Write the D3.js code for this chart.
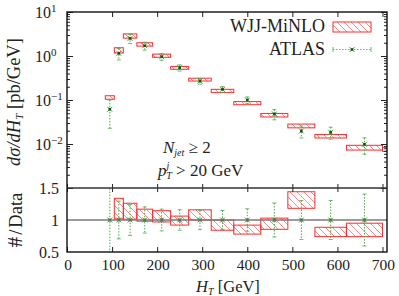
<!DOCTYPE html>
<html>
<head>
<meta charset="utf-8">
<script src="https://cdn.jsdelivr.net/npm/d3@7"></script>
<style>
  body { margin: 0; background: #fff; }
  text { font-family: "Liberation Serif", "Times New Roman", serif; fill: #222; }
</style>
</head>
<body>
<svg id="chart" width="399" height="296"></svg>
<script>
// bins in H_T [GeV]
const binLo = [85, 105, 125, 155, 190, 230, 270, 320, 370, 430, 490, 550, 620, 700];
const binHi = [105, 125, 155, 190, 230, 270, 320, 370, 430, 490, 550, 620, 700, 800];
// WJJ-MiNLO band [pb/GeV]
const minloLo = [0.104, 1.17, 2.55, 1.68, 0.935, 0.499, 0.270, 0.147, 0.078, 0.0411, 0.0233, 0.0137, 0.00728, 0.0068];
const minloHi = [0.125, 1.54, 3.18, 2.00, 1.104, 0.575, 0.313, 0.175, 0.092, 0.0495, 0.0284, 0.0164, 0.00935, 0.0084];
// ATLAS data [pb/GeV] and relative error
const atlas = [0.0615, 1.15, 2.52, 1.71, 0.964, 0.542, 0.270, 0.175, 0.100, 0.0481, 0.0197, 0.0185, 0.00984];
const atlasRelErr = [0.63, 0.295, 0.24, 0.205, 0.17, 0.16, 0.15, 0.15, 0.175, 0.265, 0.305, 0.305, 0.405];
// ticks
const xTicks = [0, 100, 200, 300, 400, 500, 600, 700];
const decades = [-3, -2, -1, 0, 1];
const decadeLabels = [-2, -1, 0, 1];
const ratioTicks = [0.5, 1, 1.5];

const L = 67, R = 387, T = 12, MID = 188, B = 252;
const red = "#ff2a2a", green = "#4aa84a", dkgreen = "#145214";

const svg = d3.select("#chart");

const x = d3.scaleLinear().domain([0, 710]).range([L, R]);
const y = d3.scaleLog().domain([1e-3, 10]).range([MID, T]);
const yr = d3.scaleLinear().domain([0.5, 1.5]).range([B, MID]);

const defs = svg.append("defs");
const pat = defs.append("pattern")
    .attr("id", "hatch")
    .attr("patternUnits", "userSpaceOnUse")
    .attr("width", 7).attr("height", 7);
pat.append("path")
    .attr("d", "M-1,-1L8,8M-1,6L1,8M6,-1L8,1")
    .attr("stroke", red).attr("stroke-width", 0.7).attr("stroke-opacity", 0.8);

defs.append("clipPath").attr("id", "clipTop")
    .append("rect").attr("x", L).attr("y", T).attr("width", R - L).attr("height", MID - T);
defs.append("clipPath").attr("id", "clipRat")
    .append("rect").attr("x", L).attr("y", MID).attr("width", R - L).attr("height", B - MID);

function marker(g, cx, cy) {
    g.append("path")
        .attr("d", `M${cx - 2.5},${cy - 2.5}L${cx + 2.5},${cy + 2.5}M${cx - 2.5},${cy + 2.5}L${cx + 2.5},${cy - 2.5}`)
        .attr("stroke", green).attr("stroke-width", 1);
    g.append("rect").attr("x", cx - 1.3).attr("y", cy - 1.3).attr("width", 2.6).attr("height", 2.6)
        .attr("fill", dkgreen);
}

function errBar(g, cx, y0, y1) {
    g.append("line").attr("x1", cx).attr("x2", cx).attr("y1", y0).attr("y2", y1)
        .attr("stroke", green).attr("stroke-width", 1).attr("stroke-dasharray", "1.5,1.5");
    [y0, y1].forEach(v => g.append("line").attr("x1", cx - 2).attr("x2", cx + 2).attr("y1", v).attr("y2", v)
        .attr("stroke", green).attr("stroke-width", 0.8));
}

// ---- upper panel ----
const upper = svg.append("g").attr("clip-path", "url(#clipTop)");
upper.selectAll(".mbox")
    .data(binLo.map((d, i) => i))
    .enter().append("rect")
    .attr("class", "mbox")
    .attr("x", i => x(binLo[i]))
    .attr("y", i => y(minloHi[i]))
    .attr("width", i => x(binHi[i]) - x(binLo[i]))
    .attr("height", i => y(minloLo[i]) - y(minloHi[i]))
    .attr("fill", "url(#hatch)")
    .attr("stroke", red).attr("stroke-width", 1);

atlas.forEach((v, i) => {
    const cx = x((binLo[i] + binHi[i]) / 2);
    const e = v * atlasRelErr[i];
    errBar(upper, cx, y(v + e), y(v - e));
    marker(upper, cx, y(v));
});

// ---- ratio panel ----
const rat = svg.append("g").attr("clip-path", "url(#clipRat)");
atlas.forEach((v, i) => {
    rat.append("rect")
        .attr("x", x(binLo[i]))
        .attr("y", yr(minloHi[i] / v))
        .attr("width", x(binHi[i]) - x(binLo[i]))
        .attr("height", yr(minloLo[i] / v) - yr(minloHi[i] / v))
        .attr("fill", "url(#hatch)")
        .attr("stroke", red).attr("stroke-width", 1);
});
svg.append("line").attr("x1", L).attr("x2", R).attr("y1", yr(1)).attr("y2", yr(1))
    .attr("stroke", "#7a7a7a").attr("stroke-width", 1.5);
atlas.forEach((v, i) => {
    const cx = x((binLo[i] + binHi[i]) / 2);
    errBar(rat, cx, yr(1 + atlasRelErr[i]), yr(1 - atlasRelErr[i]));
    marker(rat, cx, yr(1));
});

// ---- ticks ----
function ticks(axis, tx, ty) {
    const g = svg.append("g").attr("transform", `translate(${tx},${ty})`).call(axis);
    g.select(".domain").remove();
    g.selectAll("line").attr("stroke", "#222").attr("stroke-width", 1);
    g.selectAll("text").remove();
}
ticks(d3.axisBottom(x).tickValues(xTicks).tickSize(5), 0, T);
ticks(d3.axisTop(x).tickValues(xTicks).tickSize(4), 0, MID);
ticks(d3.axisBottom(x).tickValues(xTicks).tickSize(4), 0, MID);
ticks(d3.axisTop(x).tickValues(xTicks).tickSize(5), 0, B);

const majors = decades.map(d => Math.pow(10, d));
const minors = [];
decades.slice(0, -1).forEach(d => { for (let k = 2; k < 10; k++) minors.push(k * Math.pow(10, d)); });
ticks(d3.axisRight(y).tickValues(majors).tickSize(6), L, 0);
ticks(d3.axisRight(y).tickValues(minors).tickSize(3), L, 0);
ticks(d3.axisLeft(y).tickValues(majors).tickSize(6), R, 0);
ticks(d3.axisLeft(y).tickValues(minors).tickSize(3), R, 0);

// frame
svg.append("rect").attr("x", L).attr("y", T).attr("width", R - L).attr("height", B - T)
    .attr("fill", "none").attr("stroke", "#111").attr("stroke-width", 1.4);
svg.append("line").attr("x1", L).attr("x2", R).attr("y1", MID).attr("y2", MID)
    .attr("stroke", "#333").attr("stroke-width", 1.4);

// ---- tick labels ----
svg.selectAll(".xl").data(xTicks).enter().append("text")
    .attr("x", d => x(d) + 1).attr("y", 270)
    .attr("text-anchor", "middle").style("font-size", "15.5px")
    .text(d => d);

decadeLabels.forEach(d => {
    const t = svg.append("text").attr("x", 35).attr("y", y(Math.pow(10, d)) + 6).style("font-size", "16px");
    t.append("tspan").text("10");
    t.append("tspan").attr("dy", -6.5).style("font-size", "11px").text(d < 0 ? "\u2212" + (-d) : d);
});

svg.selectAll(".rl").data(ratioTicks).enter().append("text")
    .attr("x", 59).attr("y", d => yr(d) + 5.5)
    .attr("text-anchor", "end").style("font-size", "16px")
    .text(d => d);

// ---- axis titles ----
const xt = svg.append("text").attr("x", 228).attr("y", 291.5).attr("text-anchor", "middle").style("font-size", "16.5px");
xt.append("tspan").style("font-style", "italic").text("H");
xt.append("tspan").attr("dy", 3).style("font-size", "10px").style("font-style", "italic").text("T");
xt.append("tspan").attr("dy", -3).text(" [GeV]");

const yt = svg.append("text").attr("transform", "translate(20,102) rotate(-90)")
    .attr("text-anchor", "middle").style("font-size", "18.5px");
yt.append("tspan").style("font-style", "italic").text("d\u03c3/dH");
yt.append("tspan").attr("dy", 3).style("font-size", "11px").style("font-style", "italic").text("T");
yt.append("tspan").attr("dy", -3).text(" [pb/GeV]");

const rt = svg.append("text").attr("transform", "translate(22,220) rotate(-90)")
    .attr("text-anchor", "middle").style("font-size", "18.5px");
rt.append("tspan").style("font-size", "21px").text("#");
rt.append("tspan").attr("dx", 2).text("/");
rt.append("tspan").attr("dx", 2).text("Data");

// ---- annotation ----
const a1 = svg.append("text").attr("x", 163).attr("y", 153).style("font-size", "17px");
a1.append("tspan").style("font-style", "italic").text("N");
a1.append("tspan").attr("dy", 3).style("font-size", "10px").style("font-style", "italic").text("jet");
a1.append("tspan").attr("dy", -3).text(" \u2265 2");

const a2 = svg.append("text").attr("x", 158).attr("y", 175.5).style("font-size", "17px");
a2.append("tspan").style("font-style", "italic").text("p");
a2.append("tspan").attr("dy", -7).style("font-size", "10px").style("font-style", "italic").text("j");
a2.append("tspan").attr("dx", -3).attr("dy", 10).style("font-size", "10px").style("font-style", "italic").text("T");
a2.append("tspan").attr("dy", -3).text(" > 20 GeV");

// ---- legend ----
svg.append("text").attr("x", 325).attr("y", 32).attr("text-anchor", "end").style("font-size", "18px").text("WJJ-MiNLO");
svg.append("rect").attr("x", 333).attr("y", 22).attr("width", 38).attr("height", 10)
    .attr("fill", "url(#hatch)").attr("stroke", red).attr("stroke-width", 1);
svg.append("text").attr("x", 325).attr("y", 54.5).attr("text-anchor", "end").style("font-size", "18px").text("ATLAS");
const lg = svg.append("g");
lg.append("line").attr("x1", 333).attr("x2", 371).attr("y1", 49.5).attr("y2", 49.5)
    .attr("stroke", green).attr("stroke-width", 0.8).attr("stroke-dasharray", "1.5,1.5");
[333, 371].forEach(v => lg.append("line").attr("x1", v).attr("x2", v).attr("y1", 47).attr("y2", 52)
    .attr("stroke", green).attr("stroke-width", 0.8));
marker(lg, 352, 49.5);
</script>
</body>
</html>
